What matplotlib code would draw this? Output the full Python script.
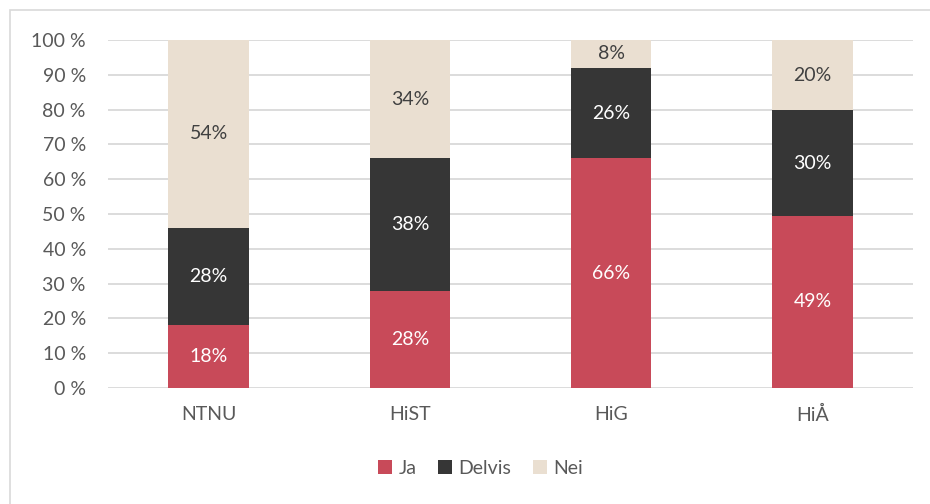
import numpy as np
import matplotlib
matplotlib.use('Agg')
import matplotlib.pyplot as plt
from matplotlib.patches import Rectangle

plt.rcParams['font.family'] = ['Lato', 'DejaVu Sans']

# data (per cent, as labelled)
schools = ['NTNU', 'HiST', 'HiG', 'HiÅ']
ja     = [18, 28, 66, 49]
delvis = [28, 38, 26, 30]
nei    = [54, 34, 8, 20]
series_names = ['Ja', 'Delvis', 'Nei']
colors = ['#C84A59', '#363636', '#EADFD1']
text_colors = ['white', 'white', '#404040']

fig = plt.figure(figsize=(9.30, 5.04), dpi=100)
ax = fig.add_axes([108 / 930, 1 - 388 / 504, (913 - 108) / 930, (388 - 40) / 504])

data = np.array([ja, delvis, nei], dtype=float)
shares = data / data.sum(axis=0) * 100  # 100% stacked
x = np.arange(len(schools))
bottom = np.zeros(len(schools))
for vals, raw, name, col, tcol in zip(shares, data, series_names, colors, text_colors):
    ax.bar(x, vals, bottom=bottom, width=0.4, color=col, label=name, zorder=2)
    for xi, b, v, r in zip(x, bottom, vals, raw):
        ax.text(xi, b + v / 2, f'{r:.0f}%', ha='center', va='center',
                color=tcol, fontsize=14, zorder=3)
    bottom += vals

ax.set_xlim(-0.5, len(schools) - 0.5)
ax.set_ylim(0, 100)
ax.set_yticks(np.arange(0, 101, 10))
ax.set_yticklabels([f'{v} %' for v in range(0, 101, 10)])
ax.set_xticks(x)
ax.set_xticklabels(schools)
ax.tick_params(length=0, labelsize=14, labelcolor='#595959')
ax.tick_params(axis='x', pad=13)
ax.tick_params(axis='y', pad=16)
ax.grid(axis='y', color='#D9D9D9', linewidth=1.3, zorder=0)
for s in ax.spines.values():
    s.set_visible(False)

leg = fig.legend(loc='center', bbox_to_anchor=(0.517, 1 - 468 / 504), ncol=3,
                 frameon=False, fontsize=14, handlelength=0.7, handleheight=0.7,
                 handletextpad=0.35, columnspacing=1.1)
for t in leg.get_texts():
    t.set_color('#595959')

fig.patches.append(Rectangle((10 / 930, -0.05), 1.0, 1 - 10 / 504 + 0.05,
                             transform=fig.transFigure, fill=False,
                             edgecolor='#D9D9D9', linewidth=1.2))

fig.savefig('out.png', dpi=100)
